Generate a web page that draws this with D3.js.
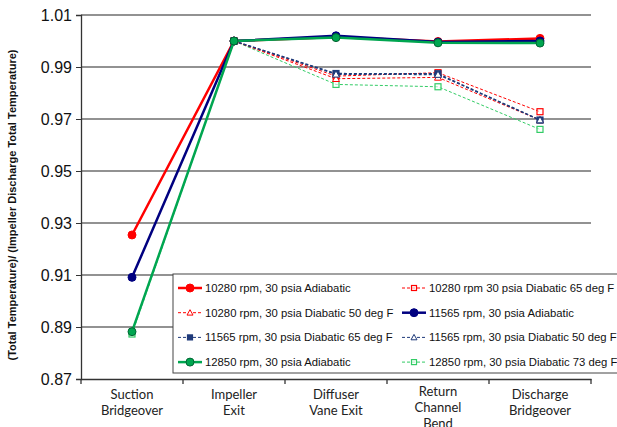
<!DOCTYPE html>
<html>
<head>
<meta charset="utf-8">
<script src="https://cdn.jsdelivr.net/npm/d3@7"></script>
<style>
  body { margin: 0; background: #fff; }
  svg { display: block; font-family: "Liberation Sans", Arial, sans-serif; }
</style>
</head>
<body>
<div id="chart-area"></div>
<script>
const categories = ["Suction|Bridgeover", "Impeller|Exit", "Diffuser|Vane Exit", "Return|Channel|Bend", "Discharge|Bridgeover"]
const yTicks = [0.87, 0.89, 0.91, 0.93, 0.95, 0.97, 0.99, 1.01]

const names = [
  "10280 rpm, 30 psia Adiabatic",
  "10280 rpm 30 psia Diabatic 65 deg F",
  "10280 rpm, 30 psia Diabatic 50 deg F",
  "11565 rpm, 30 psia Adiabatic",
  "11565 rpm, 30 psia Diabatic 65 deg F",
  "11565 rpm, 30 psia Diabatic 50 deg F",
  "12850 rpm, 30 psia Adiabatic",
  "12850 rpm, 30 psia Diabatic 73 deg F"
]
const red280Adi = [0.9254, 1.000, 1.0015, 0.9998, 1.0010]
const red280D65 = [null, 1.000, 0.9865, 0.9878, 0.9728]
const red280D50 = [null, 1.000, 0.9855, 0.9860, 0.9696]
const blu565Adi = [0.9091, 1.000, 1.0020, 0.9996, 1.0000]
const blu565D65 = [null, 1.000, 0.9875, 0.9874, 0.9696]
const blu565D50 = [null, 1.000, 0.9872, 0.9871, 0.9696]
const grn850Adi = [0.8882, 1.000, 1.0013, 0.9993, 0.9992]
const grn850D73 = [0.8873, 1.000, 0.9833, 0.9824, 0.9660]

const seriesValues = [red280Adi, red280D65, red280D50, blu565Adi, blu565D65, blu565D50, grn850Adi, grn850D73]
const styles = [
  { color: "#ff0000", dash: null, width: 2.5, marker: "circle", fill: "#ff0000" },
  { color: "#ff0000", dash: "3,2", width: 1, marker: "square", fill: "#fff" },
  { color: "#ff0000", dash: "3,2", width: 1, marker: "triangle", fill: "#fff" },
  { color: "#000080", dash: null, width: 2.5, marker: "circle", fill: "#000080" },
  { color: "#1f3a7a", dash: "3,2", width: 1.3, marker: "square", fill: "#1f3a7a" },
  { color: "#1f3a7a", dash: "3,2", width: 1.3, marker: "triangle", fill: "#fff" },
  { color: "#00a650", dash: null, width: 2.5, marker: "circle", fill: "#00a650" },
  { color: "#33cc66", dash: "3,2", width: 1, marker: "square", fill: "#fff" }
]
// dashed first, solids on top
const drawOrder = [7, 1, 2, 4, 5, 0, 3, 6]

const W = 617, H = 427
const MARGIN = { LEFT: 81, RIGHT: 26, TOP: 15, BOTTOM: 48 }
const WIDTH = W - MARGIN.LEFT - MARGIN.RIGHT
const HEIGHT = H - MARGIN.TOP - MARGIN.BOTTOM

const svg = d3.select("#chart-area").append("svg")
  .attr("width", W)
  .attr("height", H)

const g = svg.append("g")
  .attr("transform", `translate(${MARGIN.LEFT}, ${MARGIN.TOP})`)

const xScale = d3.scaleBand()
  .domain(categories)
  .range([0, WIDTH])

const yScale = d3.scaleLinear()
  .domain([0.87, 1.01])
  .range([HEIGHT, 0])

// gridlines
g.selectAll(".grid").data(yTicks.slice(1))
  .enter().append("line")
  .attr("x1", 0).attr("x2", WIDTH)
  .attr("y1", d => yScale(d)).attr("y2", d => yScale(d))
  .attr("stroke", "#6e6e6e").attr("stroke-width", 1.3)

// y axis
const yAxis = g.append("g")
  .call(d3.axisLeft(yScale).tickValues(yTicks).tickFormat(d3.format(".2f")).tickSize(5).tickPadding(4))
yAxis.select(".domain").attr("stroke", "#333").attr("stroke-width", 1.3)
yAxis.selectAll(".tick line").attr("stroke", "#333")
yAxis.selectAll("text").attr("font-size", "16px").attr("fill", "#111")
  .attr("font-family", "'Liberation Sans', Arial, sans-serif")

// x axis
const xAxis = g.append("g")
  .attr("transform", `translate(0, ${HEIGHT})`)
  .call(d3.axisBottom(xScale).tickSize(0).tickFormat(""))
xAxis.select(".domain").attr("stroke", "#333").attr("stroke-width", 1.3)
const edges = d3.range(categories.length + 1).map(i => i * xScale.step())
g.selectAll(".xtick").data(edges).enter().append("line")
  .attr("x1", d => d).attr("x2", d => d)
  .attr("y1", HEIGHT).attr("y2", HEIGHT + 5)
  .attr("stroke", "#333").attr("stroke-width", 1.3)

categories.forEach(c => {
  const lines = c.split("|")
  const t = g.append("text")
    .attr("x", xScale(c) + xScale.bandwidth() / 2)
    .attr("y", HEIGHT + 20 - (lines.length > 2 ? 3 : 0))
    .attr("text-anchor", "middle")
    .attr("font-size", "13px")
    .attr("fill", "#222")
    .attr("font-family", "Lato, 'Open Sans', sans-serif")
  lines.forEach((l, i) => {
    t.append("tspan").attr("x", xScale(c) + xScale.bandwidth() / 2)
      .attr("dy", i === 0 ? 0 : 16).text(l)
  })
})

// y label
svg.append("text")
  .attr("transform", `translate(16, 205) rotate(-90)`)
  .attr("text-anchor", "middle")
  .attr("font-size", "11px")
  .attr("font-weight", "bold")
  .attr("fill", "#111")
  .text("(Total Temperature)/ (Impeller Discharge Total Temperature)")

const xc = i => xScale(categories[i]) + xScale.bandwidth() / 2

function marker(sel, st, x, y, size) {
  if (st.marker === "circle") {
    sel.append("circle").attr("cx", x).attr("cy", y).attr("r", size)
      .attr("fill", st.fill).attr("stroke", st.color === "#00a650" ? "#063" : st.fill).attr("stroke-width", 1)
  } else if (st.marker === "square") {
    const s = size * 2 - 1
    sel.append("rect").attr("x", x - s / 2).attr("y", y - s / 2).attr("width", s).attr("height", s)
      .attr("fill", st.fill).attr("fill-opacity", st.fill === "#fff" ? 0.6 : 1)
      .attr("stroke", st.color).attr("stroke-width", 1.2)
  } else {
    const s = size
    sel.append("path")
      .attr("d", `M${x},${y - s}L${x + s},${y + s * 0.8}L${x - s},${y + s * 0.8}Z`)
      .attr("fill", "#fff").attr("stroke", st.color).attr("stroke-width", 1)
  }
}

const line = d3.line()
  .defined(d => d[1] !== null)
  .x(d => xc(d[0]))
  .y(d => yScale(d[1]))

drawOrder.forEach(k => {
  const st = styles[k]
  const pts = seriesValues[k].map((v, i) => [i, v])
  g.append("path")
    .datum(pts)
    .attr("d", line)
    .attr("fill", "none")
    .attr("stroke", st.color)
    .attr("stroke-width", st.width)
    .attr("stroke-dasharray", st.dash)
  pts.filter(p => p[1] !== null).forEach(p => {
    marker(g, st, xc(p[0]), yScale(p[1]), st.marker === "circle" ? 4 : 3.5)
  })
})

// legend
const legend = svg.append("g").attr("transform", "translate(173, 274)")
legend.append("rect")
  .attr("x", 0).attr("y", 0).attr("width", 446).attr("height", 99)
  .attr("fill", "#fff").attr("stroke", "#444").attr("stroke-width", 1)
names.forEach((n, i) => {
  const col = i % 2, row = Math.floor(i / 2)
  const lx = 5 + col * 224, ly = 14 + row * 24.7
  const st = styles[i]
  const item = legend.append("g")
  item.append("line").attr("x1", lx).attr("x2", lx + 24).attr("y1", ly).attr("y2", ly)
    .attr("stroke", st.color).attr("stroke-width", st.dash ? 1 : 2.5)
    .attr("stroke-dasharray", st.dash)
  marker(item, st, lx + 12, ly, st.marker === "circle" ? 4 : 3)
  item.append("text").attr("x", lx + 27).attr("y", ly + 4)
    .attr("font-size", "11.3px").attr("fill", "#111").text(n)
})
</script>
</body>
</html>
